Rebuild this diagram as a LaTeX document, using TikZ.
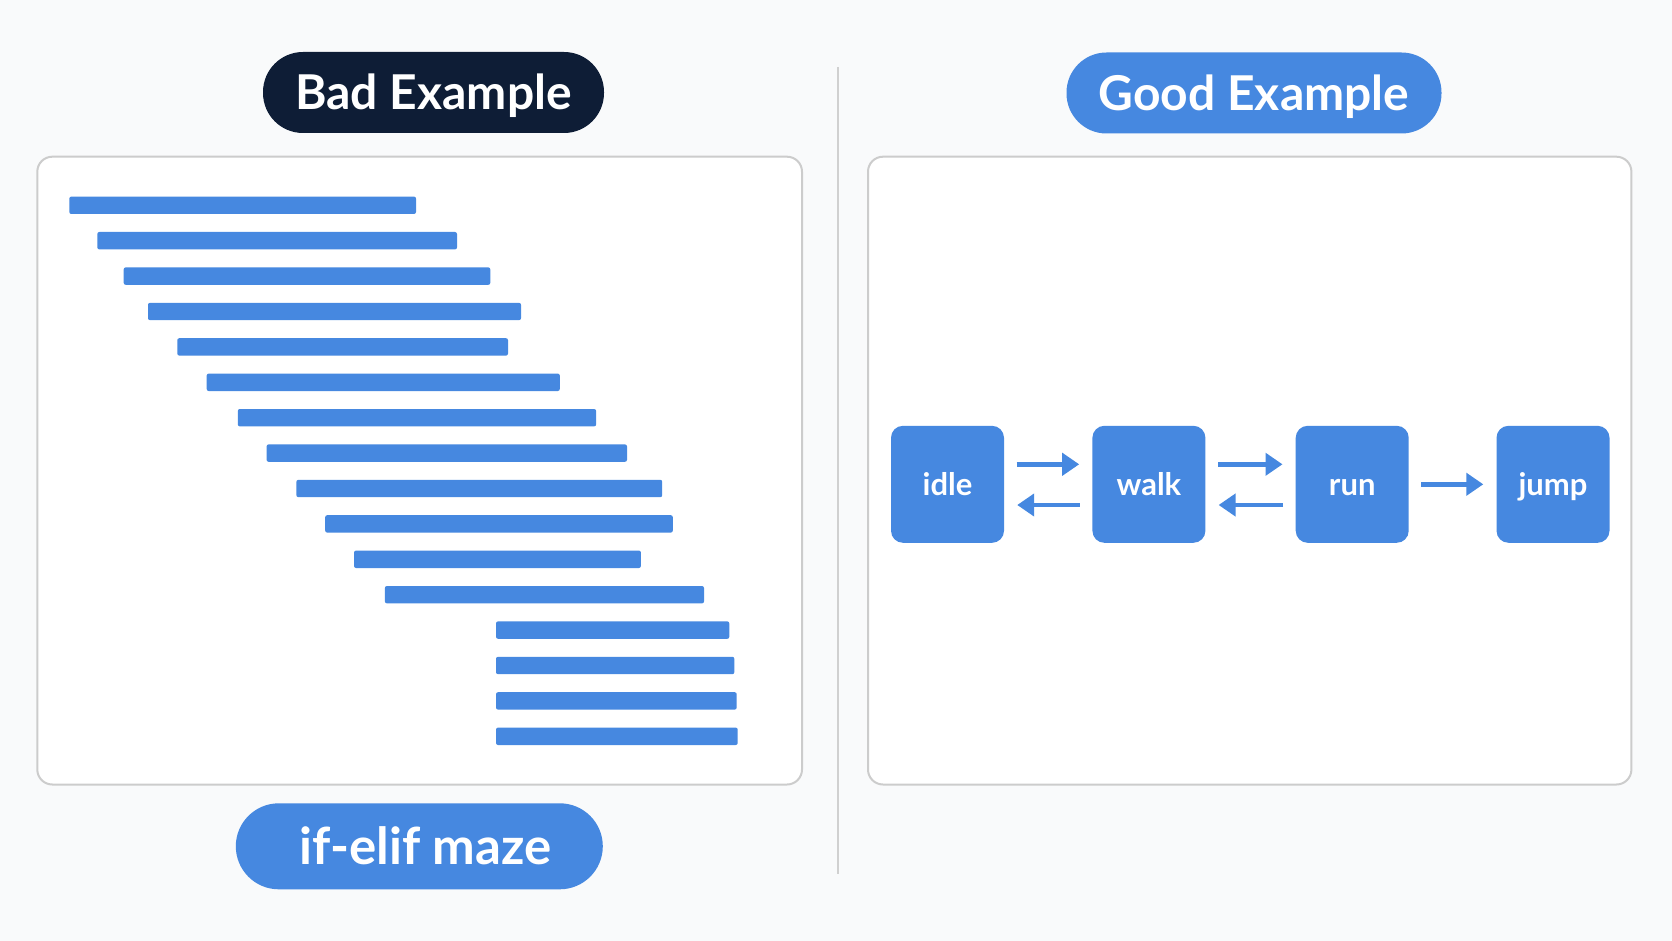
\documentclass[tikz,border=0pt]{standalone}
\usepackage{fontspec}
\setmainfont{Lato}
\usetikzlibrary{arrows.meta}
\definecolor{bg}{RGB}{249,250,251}
\definecolor{blu}{RGB}{70,136,224}
\definecolor{navy}{RGB}{14,29,54}
\definecolor{framec}{RGB}{204,204,204}
\definecolor{divc}{RGB}{208,208,208}
\begin{document}
\begin{tikzpicture}[x=1pt,y=-1pt,
  panel/.style={draw=framec, line width=2pt, fill=white, rounded corners=15pt},
  pill/.style={rectangle, rounded corners=40pt, inner sep=0pt, text=white,
    font=\fontsize{48}{58}\selectfont\bfseries, text height=35pt, text depth=0pt},
  state/.style={rectangle, rounded corners=12pt, fill=blu, inner sep=0pt,
    minimum width=113pt, minimum height=117pt, text=white,
    font=\fontsize{31}{36}\selectfont\bfseries, text height=22pt, text depth=0pt},
  arr/.style={draw=blu, line width=4.5pt, -{Triangle[length=17pt,width=22pt]},
    shorten <=12.5pt, shorten >=13pt},
  bar/.style={fill=blu, rounded corners=2pt}]
\fill[bg] (0,0) rectangle (1672,941);
\useasboundingbox (0,0) rectangle (1672,941);
% divider
\draw[divc, line width=1.5pt] (838,67) -- (838,874);
% panels
\draw[panel] (37.3,156.7) rectangle (802,784.5);
\draw[panel] (868,156.7) rectangle (1631.4,784.5);
% pills
\node[pill, fill=navy, minimum width=341pt, minimum height=81pt] (bad) at (433.5,92.5) {Bad Example};
\node[pill, fill=blu, minimum width=375pt, minimum height=81pt] (good) at (1254,93) {Good Example};
\node[pill, fill=blu, minimum width=367pt, minimum height=86pt, rounded corners=43pt,
  font=\fontsize{51}{60}\selectfont\bfseries, text height=37pt] (maze) at (419.3,846.3) {\hspace*{12pt}if-elif maze};
% bars
\foreach \xa/\xb [count=\i from 0] in {69.3/416, 97.3/457, 123.7/490.3, 148/521, 177.3/508,
  206.7/559.8, 237.8/596.1, 266.6/627, 296.4/662.2, 325.2/672.8, 354/640.9, 384.9/704,
  496/729.3, 496/734.3, 496/736.7, 496/737.7}{
  \pgfmathsetmacro{\yc}{205.3+35.4*\i}
  \fill[bar] (\xa,\yc-8.7) rectangle (\xb,\yc+8.7);
}
% states
\node[state] (idle) at (947.5,484.3) {idle};
\node[state] (walk) at (1148.9,484.3) {walk};
\node[state] (run) at (1352.2,484.3) {run};
\node[state] (jump) at (1553,484.3) {jump};
\draw[arr] ([yshift=20pt]idle.east) -- ([yshift=20pt]walk.west);
\draw[arr] ([yshift=-20.7pt]walk.west) -- ([yshift=-20.7pt]idle.east);
\draw[arr] ([yshift=20pt]walk.east) -- ([yshift=20pt]run.west);
\draw[arr] ([yshift=-20.7pt]run.west) -- ([yshift=-20.7pt]walk.east);
\draw[arr] (run.east) -- (jump.west);
\end{tikzpicture}
\end{document}
